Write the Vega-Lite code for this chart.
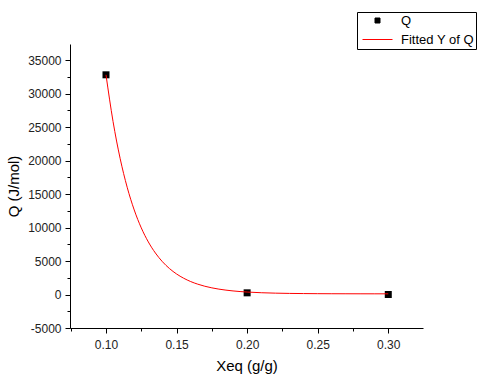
{
  "$schema": "https://vega.github.io/schema/vega-lite/v6.json",
  "autosize": {"type": "none"},
  "width": 353,
  "height": 284,
  "padding": {"left": 70, "top": 44, "right": 57, "bottom": 52},
  "background": "white",
  "config": {
    "view": {"stroke": null},
    "font": "Liberation Sans",
    "axis": {"grid": false, "domainColor": "black", "tickColor": "black", "labelColor": "#222", "titleColor": "black", "labelFont": "Liberation Sans", "titleFont": "Liberation Sans", "labelFontSize": 12, "titleFontSize": 15, "titleFontWeight": "normal"}
  },
  "data": {"values": [
    {"x": 0.1, "y": 32800, "series": "Q"},
    {"x": 0.2, "y": 250, "series": "Q"},
    {"x": 0.3, "y": 0, "series": "Q"},
    {"x": 0.100, "y": 32800, "series": "Fitted Y of Q"},
    {"x": 0.105, "y": 25822, "series": "Fitted Y of Q"},
    {"x": 0.110, "y": 20335, "series": "Fitted Y of Q"},
    {"x": 0.115, "y": 16018, "series": "Fitted Y of Q"},
    {"x": 0.120, "y": 12621, "series": "Fitted Y of Q"},
    {"x": 0.125, "y": 9949, "series": "Fitted Y of Q"},
    {"x": 0.130, "y": 7847, "series": "Fitted Y of Q"},
    {"x": 0.135, "y": 6195, "series": "Fitted Y of Q"},
    {"x": 0.140, "y": 4894, "series": "Fitted Y of Q"},
    {"x": 0.145, "y": 3870, "series": "Fitted Y of Q"},
    {"x": 0.150, "y": 3066, "series": "Fitted Y of Q"},
    {"x": 0.155, "y": 2435, "series": "Fitted Y of Q"},
    {"x": 0.160, "y": 1934, "series": "Fitted Y of Q"},
    {"x": 0.165, "y": 1545, "series": "Fitted Y of Q"},
    {"x": 0.170, "y": 1235, "series": "Fitted Y of Q"},
    {"x": 0.175, "y": 993, "series": "Fitted Y of Q"},
    {"x": 0.180, "y": 803, "series": "Fitted Y of Q"},
    {"x": 0.185, "y": 653, "series": "Fitted Y of Q"},
    {"x": 0.190, "y": 535, "series": "Fitted Y of Q"},
    {"x": 0.195, "y": 442, "series": "Fitted Y of Q"},
    {"x": 0.200, "y": 369, "series": "Fitted Y of Q"},
    {"x": 0.210, "y": 267, "series": "Fitted Y of Q"},
    {"x": 0.220, "y": 203, "series": "Fitted Y of Q"},
    {"x": 0.230, "y": 164, "series": "Fitted Y of Q"},
    {"x": 0.240, "y": 140, "series": "Fitted Y of Q"},
    {"x": 0.250, "y": 125, "series": "Fitted Y of Q"},
    {"x": 0.260, "y": 115, "series": "Fitted Y of Q"},
    {"x": 0.270, "y": 110, "series": "Fitted Y of Q"},
    {"x": 0.280, "y": 106, "series": "Fitted Y of Q"},
    {"x": 0.290, "y": 104, "series": "Fitted Y of Q"},
    {"x": 0.300, "y": 103, "series": "Fitted Y of Q"}
  ]},
  "encoding": {
    "x": {"field": "x", "type": "quantitative", "title": "Xeq (g/g)",
      "scale": {"domain": [0.0745, 0.3246], "nice": false, "zero": false},
      "axis": {"values": [0.075, 0.1, 0.125, 0.15, 0.175, 0.2, 0.225, 0.25, 0.275, 0.3, 0.325],
        "labelExpr": "abs(datum.value*20 - round(datum.value*20)) < 0.000001 ? format(datum.value, '.2f') : ''",
        "tickSize": {"condition": {"test": "abs(datum.value*20 - round(datum.value*20)) < 0.000001", "value": 5}, "value": 3},
        "labelPadding": 6, "titlePadding": 8}},
    "y": {"field": "y", "type": "quantitative", "title": "Q (J/mol)",
      "scale": {"domain": [-5000, 37400], "nice": false, "zero": false},
      "axis": {"values": [-5000, -2500, 0, 2500, 5000, 7500, 10000, 12500, 15000, 17500, 20000, 22500, 25000, 27500, 30000, 32500, 35000],
        "labelExpr": "datum.value % 5000 == 0 ? '' + datum.value : ''",
        "tickSize": {"condition": {"test": "datum.value % 5000 == 0", "value": 5}, "value": 3},
        "labelPadding": 4, "titlePadding": 6}},
    "color": {"field": "series", "type": "nominal",
      "scale": {"domain": ["Q", "Fitted Y of Q"], "range": ["black", "#ff0000"]},
      "legend": {"title": null, "orient": "none", "legendX": 287, "legendY": -32,
        "strokeColor": "black", "fillColor": "white", "padding": 2, "labelFontSize": 13, "labelColor": "black", "labelFont": "Liberation Sans", "rowPadding": 5,
        "symbolSize": 25, "symbolOffset": 12, "labelOffset": 17,
        "encode": {"symbols": {"update": {
          "shape": {"signal": "datum.value === 'Q' ? 'square' : 'M-6,0H6'"},
          "size": {"value": 25},
          "fill": {"signal": "datum.value === 'Q' ? 'black' : 'transparent'"},
          "stroke": {"signal": "datum.value === 'Q' ? 'transparent' : '#ff0000'"},
          "strokeWidth": {"value": 1}
        }}}}}
  },
  "layer": [
    {"transform": [{"filter": "datum.series === 'Q'"}],
     "mark": {"type": "point", "shape": "square", "filled": true, "size": 49, "opacity": 1}},
    {"transform": [{"filter": "datum.series !== 'Q'"}],
     "mark": {"type": "line", "strokeWidth": 1, "interpolate": "monotone"}}
  ]
}
